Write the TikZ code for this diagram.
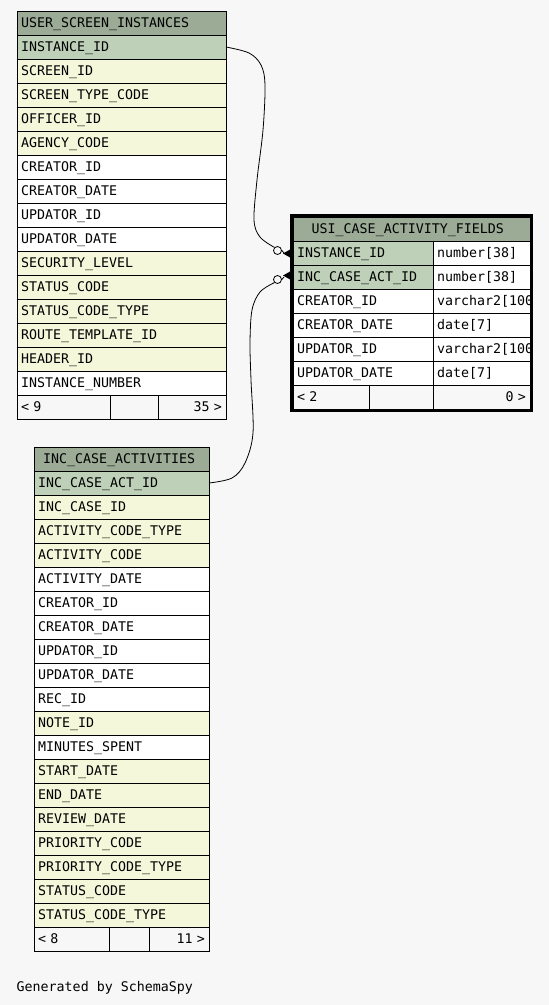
\documentclass[tikz,border=0pt]{standalone}
\usepackage{fontspec}
\newfontfamily\dm{DejaVu Sans Mono}
\definecolor{bg}{HTML}{F7F7F7}
\definecolor{hd}{HTML}{9BAB96}
\definecolor{pk}{HTML}{BED1B8}
\definecolor{ix}{HTML}{F4F7DA}
\definecolor{wt}{HTML}{FFFFFF}
\begin{document}
\begin{tikzpicture}[x=1pt,y=-1pt,
  cell/.style={draw=black, line width=1pt, rectangle, anchor=north west, outer sep=0pt,
    minimum height=24pt, inner xsep=4pt, inner ysep=0pt, text height=16pt, text depth=8pt,
    align=left, font=\dm\fontsize{13.3}{16}\selectfont},
  rcell/.style={cell, align=right},
  conn/.style={draw=black, line width=0.8pt},
  ring/.style={circle, draw=black, line width=0.8pt, fill=bg, minimum size=8pt, inner sep=0pt},
  foot/.style={cell, fill=bg}]
\fill[bg] (0,0) rectangle (549,1005);
\useasboundingbox (0,0) rectangle (549,1005);

% ---- USER_SCREEN_INSTANCES ----
\node[cell, fill=hd, minimum width=209pt, text width=201pt] (ah) at (17,11) {USER\_SCREEN\_INSTANCES};
\foreach \t/\c [count=\i from 0] in {INSTANCE\_ID/pk, SCREEN\_ID/ix, SCREEN\_TYPE\_CODE/ix, OFFICER\_ID/ix,
  AGENCY\_CODE/ix, CREATOR\_ID/wt, CREATOR\_DATE/wt, UPDATOR\_ID/wt, UPDATOR\_DATE/wt, SECURITY\_LEVEL/ix,
  STATUS\_CODE/ix, STATUS\_CODE\_TYPE/ix, ROUTE\_TEMPLATE\_ID/ix, HEADER\_ID/ix, INSTANCE\_NUMBER/wt}
  \node[cell, fill=\c, minimum width=209pt, text width=201pt] (a\i) at (17,{35+24*\i}) {\t};
\node[foot, minimum width=93pt, text width=85pt] (af1) at (17,395) {< 9};
\node[foot, minimum width=48pt, text width=40pt] (af2) at (110,395) {};
\node[foot, align=right, minimum width=68pt, text width=60pt] (af3) at (158,395) {35 >};

% ---- INC_CASE_ACTIVITIES ----
\node[cell, fill=hd, minimum width=175pt, text width=167pt] (eh) at (34,447) {\hspace{5pt}INC\_CASE\_ACTIVITIES};
\foreach \t/\c [count=\i from 0] in {INC\_CASE\_ACT\_ID/pk, INC\_CASE\_ID/ix, ACTIVITY\_CODE\_TYPE/ix, ACTIVITY\_CODE/ix,
  ACTIVITY\_DATE/wt, CREATOR\_ID/wt, CREATOR\_DATE/wt, UPDATOR\_ID/wt, UPDATOR\_DATE/wt, REC\_ID/wt,
  NOTE\_ID/ix, MINUTES\_SPENT/wt, START\_DATE/ix, END\_DATE/ix, REVIEW\_DATE/ix, PRIORITY\_CODE/ix,
  PRIORITY\_CODE\_TYPE/ix, STATUS\_CODE/ix, STATUS\_CODE\_TYPE/ix}
  \node[cell, fill=\c, minimum width=175pt, text width=167pt] (e\i) at (34,{471+24*\i}) {\t};
\node[foot, minimum width=75pt, text width=67pt] (ef1) at (34,927) {< 8};
\node[foot, minimum width=40pt, text width=32pt] (ef2) at (109,927) {};
\node[foot, align=right, minimum width=60pt, text width=52pt] (ef3) at (149,927) {11 >};

% ---- USI_CASE_ACTIVITY_FIELDS ----
\node[cell, fill=hd, minimum width=237pt, text width=229pt] (ch) at (293,217) {\hspace{14.7pt}USI\_CASE\_ACTIVITY\_FIELDS};
\foreach \t/\c [count=\i from 0] in {INSTANCE\_ID/pk, INC\_CASE\_ACT\_ID/pk, CREATOR\_ID/wt, CREATOR\_DATE/wt,
  UPDATOR\_ID/wt, UPDATOR\_DATE/wt}
  \node[cell, fill=\c, minimum width=140pt, text width=132pt] (c\i) at (293,{241+24*\i}) {\t};
\begin{scope}
  \clip (293,200) rectangle (531,420);
  \foreach \t [count=\i from 0] in {number[38], number[38], varchar2[100], date[7], varchar2[100], date[7]}
    \node[cell, fill=wt, minimum width=97pt, text width=89pt] (d\i) at (433,{241+24*\i}) {\t};
\end{scope}
\node[foot, minimum width=76pt, text width=68pt] (cf1) at (293,385) {< 2};
\node[foot, minimum width=64pt, text width=56pt] (cf2) at (369,385) {};
\node[foot, align=right, minimum width=97pt, text width=89pt] (cf3) at (433,385) {0 >};
\draw[line width=3pt] (291.5,215.5) rectangle (531.5,410.5);

% ---- connectors ----
\node[ring] (o1) at (277.5,250.5) {};
\node[ring] (o2) at (277.5,279.5) {};
\draw[conn] plot[smooth, tension=0.55] coordinates {(a0.east) (249,53) (261,65) (265,85) (263,130) (257,180) (254,220) (260,237) (o1.north west)};
\draw[conn] plot[smooth, tension=0.55] coordinates {(e0.east) (232,478) (245,463) (253,433) (251,380) (250,343) (252,310) (260,292) (o2.south west)};
\draw[conn] (o1.east) -- ([xshift=-9pt]c0.west);
\draw[conn] (o2.east) -- ([xshift=-9pt]c1.west);
\fill[black] ([xshift=-10pt,yshift=-0.5pt]c0.west) -- ([xshift=-2pt,yshift=-5pt]c0.west) -- ([xshift=-2pt,yshift=4pt]c0.west) -- cycle;
\fill[black] ([xshift=-10pt,yshift=1.5pt]c1.west) -- ([xshift=-2pt,yshift=-3pt]c1.west) -- ([xshift=-2pt,yshift=6pt]c1.west) -- cycle;

\node[anchor=base west, inner sep=0pt, font=\dm\fontsize{13.3}{16}\selectfont] (gen) at (16.5,991) {Generated by SchemaSpy};
\end{tikzpicture}
\end{document}
